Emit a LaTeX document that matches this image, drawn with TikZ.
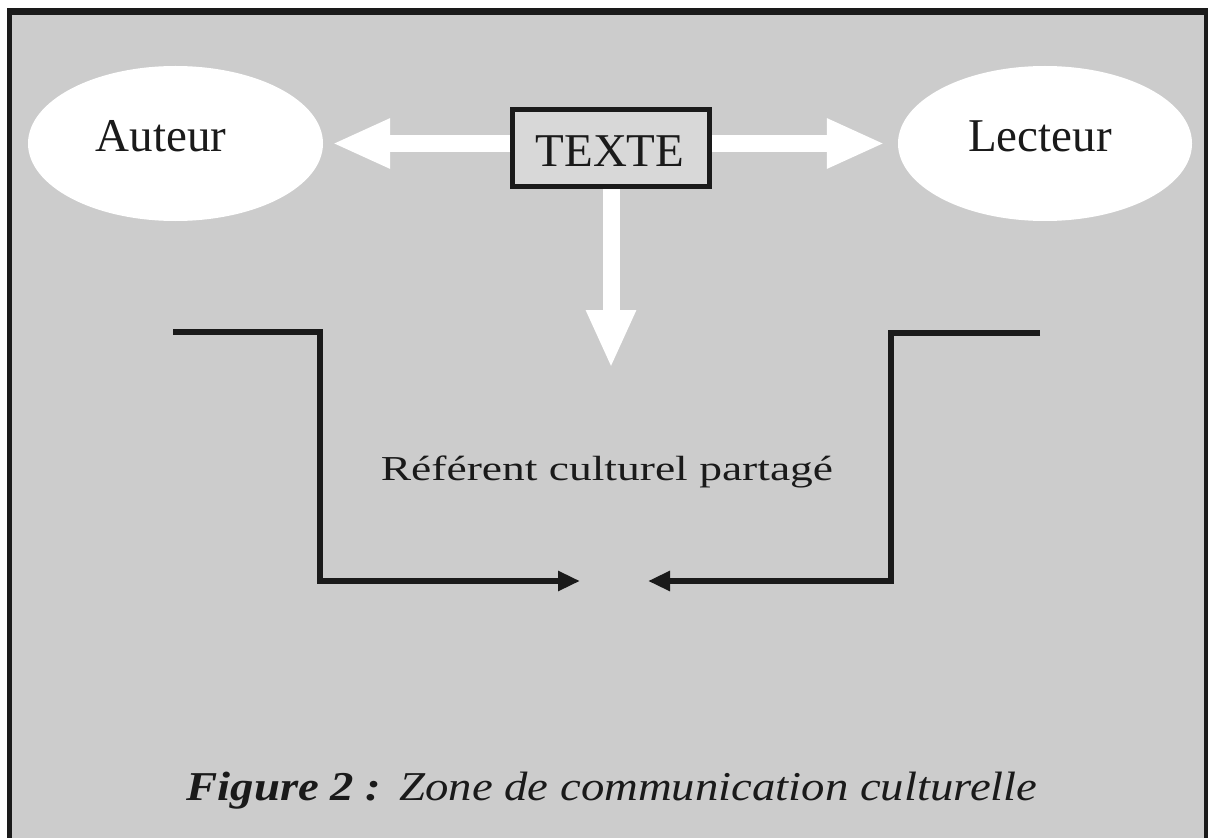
\documentclass[tikz,border=0pt]{standalone}
\usepackage{fontspec}
\setmainfont{Liberation Serif}
\newfontfamily\widefont[FakeStretch=1.3]{Liberation Serif}
\newfontfamily\capfont[FakeStretch=1.14]{Liberation Serif}
\usetikzlibrary{arrows.meta,shapes.geometric}
\definecolor{bggray}{HTML}{CCCCCC}
\definecolor{boxgray}{HTML}{D8D8D8}
\definecolor{ink}{HTML}{1A1A1A}
\tikzset{
  oval/.style={ellipse, fill=white, draw=none},
  labeltext/.style={anchor=base, inner sep=0pt, text=ink, font=\fontsize{47}{50}\selectfont},
  textebox/.style={rectangle, draw=ink, line width=5pt, fill=boxgray, minimum width=197pt, minimum height=77pt, inner sep=0pt},
  whitearrow/.style={draw=white, line width=17pt, -{Triangle[length=58pt,width=46pt,fill=white]}},
  blackline/.style={draw=ink, line width=5.5pt, -{Triangle[length=22pt,width=19pt,fill=ink]}},
  frameline/.style={draw=ink, line width=4.5pt}
}
\begin{document}
\begin{tikzpicture}[x=1pt,y=-1pt]
\useasboundingbox (0,0) rectangle (1214,837);
\fill[white] (0,0) rectangle (1214,837);
\fill[bggray] (9.5,11.5) rectangle (1206,845);
\draw[frameline] (9.5,845) -- (9.5,11.5);
\draw[frameline] (1206,845) -- (1206,11.5);
\draw[draw=ink, line width=6.5pt] (7.25,11.5) -- (1208.25,11.5);

% ellipses
\node[oval, minimum width=295pt, minimum height=155pt] (auteur) at (175.5,143.5) {};
\node[oval, minimum width=294pt, minimum height=155pt] (lecteur) at (1045,143.5) {};
\node[labeltext] (auteurtxt) at (161,152) {Auteur};
\node[labeltext] (lecteurtxt) at (1040,152) {Lecteur};

% TEXTE box
\node[textebox] (texte) at (611,148) {};
\node[labeltext] (textetxt) at (610,167) {TEXTE};
\coordinate (downtip) at (611,368);

% white arrows
\draw[whitearrow, shorten >=9pt] (texte.west |- auteur.east) -- (auteur.east);
\draw[whitearrow, shorten >=13pt] (texte.east |- lecteur.west) -- (lecteur.west);
\draw[whitearrow] (texte.south) -- (downtip);

% brackets
\coordinate (la) at (173,332);
\coordinate (lb) at (320,332);
\coordinate (lc) at (320,581);
\coordinate (ld) at (580,581);
\coordinate (ra) at (1040,333);
\coordinate (rb) at (891,333);
\coordinate (rc) at (891,581);
\coordinate (rd) at (648,581);
\draw[blackline] (la) -- (lb) -- (lc) -- (ld);
\draw[blackline] (ra) -- (rb) -- (rc) -- (rd);

% middle text
\node[anchor=base, inner sep=0pt, text=ink, font=\widefont\fontsize{35}{40}\selectfont] (referent) at (607,480) {Référent culturel partagé};

% caption
\node[anchor=base, inner sep=0pt, text=ink, font=\capfont\fontsize{41}{45}\selectfont] (caption) at (612,800) {\textbf{\textit{Figure 2 :}}\hspace{18pt}\textit{Zone de communication culturelle}};
\end{tikzpicture}
\end{document}
